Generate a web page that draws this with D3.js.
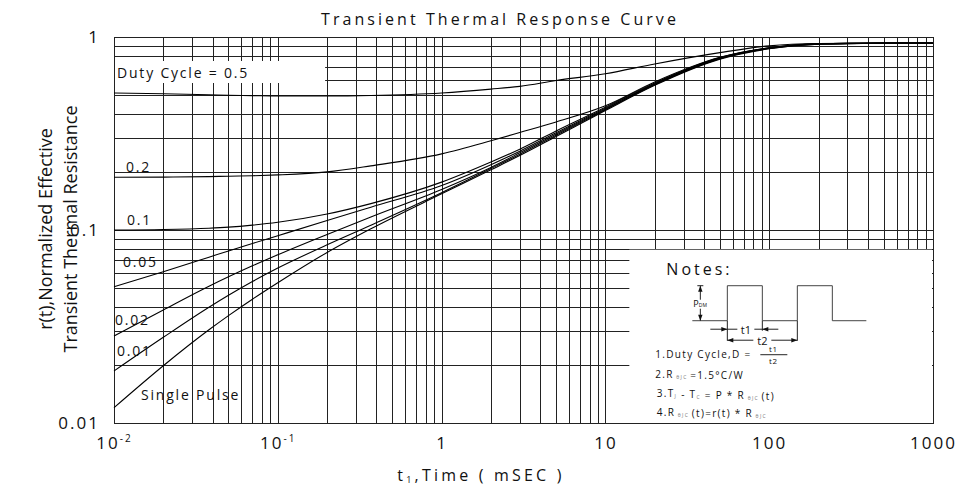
<!DOCTYPE html>
<html>
<head>
<meta charset="utf-8">
<script src="https://cdn.jsdelivr.net/npm/d3@7"></script>
<style>
  body { margin: 0; background: #fff; }
  text { font-family: "Open Sans", sans-serif; fill: #111; }
</style>
</head>
<body>
<svg id="chart" width="963" height="488"></svg>
<script>
// time points (mSEC) that every curve was read at
var times = [0.01, 0.02, 0.038, 0.05, 0.07, 0.1, 0.2, 0.37, 1, 2, 3, 5, 10, 20, 50, 100, 200, 500, 1000];

// r(t) per duty cycle
var duty50 = [0.513, 0.508, 0.502, 0.499, 0.497, 0.495, 0.495, 0.498, 0.513, 0.537, 0.555, 0.595, 0.645, 0.725, 0.83, 0.9, 0.925, 0.93, 0.931];
var duty20 = [0.1875, 0.188, 0.189, 0.19, 0.191, 0.193, 0.2, 0.215, 0.248, 0.29, 0.32, 0.363, 0.44, 0.585, 0.785, 0.88, 0.923, 0.93, 0.931];
var duty10 = [0.1, 0.1006, 0.1022, 0.1035, 0.106, 0.1096, 0.121, 0.137, 0.177, 0.225, 0.262, 0.326, 0.432, 0.578, 0.782, 0.878, 0.922, 0.93, 0.931];
var duty05 = [0.0508, 0.0608, 0.0723, 0.0779, 0.0851, 0.0934, 0.1119, 0.1313, 0.17, 0.218, 0.256, 0.319, 0.427, 0.573, 0.778, 0.876, 0.921, 0.93, 0.931];
var duty02 = [0.0282, 0.0385, 0.0511, 0.0572, 0.0652, 0.0744, 0.0948, 0.1169, 0.1623, 0.211, 0.251, 0.314, 0.423, 0.569, 0.775, 0.874, 0.92, 0.929, 0.931];
var duty01 = [0.0186, 0.0278, 0.0398, 0.0459, 0.0541, 0.0635, 0.0838, 0.1059, 0.156, 0.208, 0.247, 0.31, 0.42, 0.566, 0.772, 0.872, 0.919, 0.929, 0.931];
var single = [0.012, 0.0198, 0.0304, 0.036, 0.0438, 0.0533, 0.0765, 0.1015, 0.154, 0.205, 0.243, 0.305, 0.416, 0.562, 0.768, 0.869, 0.917, 0.928, 0.93];

var curves = [duty50, duty20, duty10, duty05, duty02, duty01, single];
var curveNames = ["Duty Cycle = 0.5", "0.2", "0.1", "0.05", "0.02", "0.01", "Single Pulse"];

var xTicks = [0.01, 0.1, 1, 10, 100, 1000];
var yTicks = [0.01, 0.1, 1];

var svg = d3.select("#chart");

var x = d3.scaleLog().domain([0.01, 1000]).range([114, 933]);
var y = d3.scaleLog().domain([0.01, 1]).range([423, 37]);

// grid
var grid = svg.append("g").attr("class", "grid");
grid.append("g")
    .attr("transform", "translate(0," + y(0.01) + ")")
    .call(d3.axisBottom(x).tickValues(x.ticks()).tickSize(-(y(0.01) - y(1))).tickFormat(""));
grid.append("g")
    .attr("transform", "translate(" + x(0.01) + ",0)")
    .call(d3.axisLeft(y).tickValues(y.ticks()).tickSize(-(x(1000) - x(0.01))).tickFormat(""));
grid.selectAll(".domain").remove();
grid.selectAll("line").attr("stroke", "#222").attr("stroke-width", 1).attr("shape-rendering", "crispEdges");

// white boxes over the grid
svg.append("rect")
    .attr("x", x(0.01) + 1).attr("y", 61)
    .attr("width", x(0.2) - x(0.01) - 3).attr("height", 22)
    .attr("fill", "#fff");

var bx = x(14), by = y(0.08);
svg.append("rect")
    .attr("x", bx).attr("y", by + 1)
    .attr("width", x(1000) - bx - 1).attr("height", y(0.01) - by - 1)
    .attr("fill", "#fff");

// frame
svg.append("rect")
    .attr("x", x(0.01)).attr("y", y(1))
    .attr("width", x(1000) - x(0.01)).attr("height", y(0.01) - y(1))
    .attr("fill", "none").attr("stroke", "#222").attr("shape-rendering", "crispEdges");

// curves
var line = d3.line()
    .x(function(d, i) { return x(times[i]); })
    .y(function(d) { return y(d); })
    .curve(d3.curveMonotoneX);

svg.append("g").selectAll("path")
    .data(curves)
    .enter()
    .append("path")
    .attr("d", line)
    .attr("fill", "none")
    .attr("stroke", "#000")
    .attr("stroke-width", 1.1);

// curve labels
var labelPos = [[117, 78], [126, 172], [127, 225], [123, 267], [115, 325], [117, 356], [141, 400]];
svg.append("g").selectAll("text")
    .data(curveNames)
    .enter()
    .append("text")
    .attr("x", function(d, i) { return labelPos[i][0]; })
    .attr("y", function(d, i) { return labelPos[i][1]; })
    .attr("font-size", 14)
    .attr("letter-spacing", 1.8)
    .text(function(d) { return d; });

// axes labels
var xAxis = svg.append("g")
    .attr("transform", "translate(0," + y(0.01) + ")")
    .call(d3.axisBottom(x).tickValues(xTicks).tickSize(0).tickPadding(14)
        .tickFormat(function(d) { return d < 1 ? "10" : String(d); }));
xAxis.select(".domain").remove();
xAxis.selectAll("text")
    .attr("font-size", 17)
    .attr("letter-spacing", 2)
    .style("font-family", "Open Sans")
    .attr("fill", "#111")
    .each(function(d) {
        if (d < 1) {
            d3.select(this).append("tspan")
                .attr("dy", "-0.7em")
                .attr("font-size", 10)
                .text(d === 0.01 ? "-2" : "-1");
        }
    });

var yAxis = svg.append("g")
    .attr("transform", "translate(" + x(0.01) + ",0)")
    .call(d3.axisLeft(y).tickValues(yTicks).tickSize(0).tickPadding(14)
        .tickFormat(function(d) { return String(d); }));
yAxis.select(".domain").remove();
yAxis.selectAll("text")
    .attr("font-size", 17)
    .attr("letter-spacing", 2)
    .style("font-family", "Open Sans")
    .attr("fill", "#111");

// titles
svg.append("text")
    .attr("x", 500).attr("y", 25)
    .attr("text-anchor", "middle")
    .attr("font-size", 16)
    .attr("letter-spacing", 3.05)
    .text("Transient Thermal Response Curve");

var xt = svg.append("text")
    .attr("x", 481).attr("y", 481)
    .attr("text-anchor", "middle")
    .attr("font-size", 16)
    .attr("letter-spacing", 3.2);
xt.append("tspan").text("t");
xt.append("tspan").attr("font-size", 9).attr("dy", 2).text("1");
xt.append("tspan").attr("dy", -2).text(",Time ( mSEC )");

var yt = svg.append("g").attr("transform", "translate(52,229) rotate(-90)");
yt.append("text").attr("text-anchor", "middle").attr("font-size", 18).text("r(t),Normalized Effective");
yt.append("text").attr("text-anchor", "middle").attr("font-size", 18).attr("y", 25).text("Transient Thermal Resistance");

// notes
var notes = svg.append("g").attr("transform", "translate(" + bx + "," + by + ")");
notes.append("text").attr("x", 37).attr("y", 26).attr("font-size", 16).attr("letter-spacing", 3).text("Notes:");

var lowY = 72, highY = 37;
var edges = [63, 98, 133, 168, 203, 237];
notes.append("path")
    .attr("d", "M" + edges[0] + "," + lowY + "H" + edges[1] + "V" + highY + "H" + edges[2] + "V" + lowY +
        "H" + edges[3] + "V" + highY + "H" + edges[4] + "V" + lowY + "H" + edges[5])
    .attr("fill", "none").attr("stroke", "#444").attr("stroke-width", 1);

function arrow(tx, ty, dir) {
    // dir: "l", "r", "u", "d" = direction the tip points
    var p;
    if (dir === "r") p = [[tx, ty], [tx - 6, ty - 2.2], [tx - 6, ty + 2.2]];
    if (dir === "l") p = [[tx, ty], [tx + 6, ty - 2.2], [tx + 6, ty + 2.2]];
    if (dir === "u") p = [[tx, ty], [tx - 2.2, ty + 6], [tx + 2.2, ty + 6]];
    if (dir === "d") p = [[tx, ty], [tx - 2.2, ty - 6], [tx + 2.2, ty - 6]];
    notes.append("path").attr("d", "M" + p.join("L") + "Z").attr("fill", "#111");
}

var thin = function(sel) { return sel.attr("stroke", "#222").attr("stroke-width", 1).attr("fill", "none"); };

// P_DM
thin(notes.append("line").attr("x1", 71).attr("x2", 71).attr("y1", highY).attr("y2", lowY));
thin(notes.append("line").attr("x1", 68).attr("x2", 74).attr("y1", highY).attr("y2", highY));
arrow(71, highY, "u");
arrow(71, lowY, "d");
notes.append("rect").attr("x", 63).attr("y", 51).attr("width", 20).attr("height", 9).attr("fill", "#fff");
var pdm = notes.append("text").attr("x", 64).attr("y", 58).attr("font-size", 9).attr("font-family", "Liberation Sans");
pdm.append("tspan").text("P");
pdm.append("tspan").attr("font-size", 5).attr("dy", 0.5).text("DM");

// extension lines
thin(notes.append("line").attr("x1", edges[1]).attr("x2", edges[1]).attr("y1", lowY).attr("y2", 92));
thin(notes.append("line").attr("x1", edges[2]).attr("x2", edges[2]).attr("y1", lowY).attr("y2", 82));
thin(notes.append("line").attr("x1", edges[3]).attr("x2", edges[3]).attr("y1", lowY).attr("y2", 92));

// t1
thin(notes.append("line").attr("x1", 81).attr("x2", 149).attr("y1", 80.5).attr("y2", 80.5));
arrow(edges[1], 80.5, "r");
arrow(edges[2], 80.5, "l");
notes.append("rect").attr("x", 108).attr("y", 75).attr("width", 17).attr("height", 10).attr("fill", "#fff");
notes.append("text").attr("x", 116.5).attr("y", 85).attr("text-anchor", "middle").attr("font-size", 11).attr("font-family", "Liberation Sans").text("t1");

// t2
thin(notes.append("line").attr("x1", edges[1]).attr("x2", edges[3]).attr("y1", 91.5).attr("y2", 91.5));
arrow(edges[1], 91.5, "l");
arrow(edges[3], 91.5, "r");
notes.append("rect").attr("x", 124).attr("y", 86).attr("width", 18).attr("height", 10).attr("fill", "#fff");
notes.append("text").attr("x", 133).attr("y", 96).attr("text-anchor", "middle").attr("font-size", 11).attr("font-family", "Liberation Sans").text("t2");

// note lines
var n1 = notes.append("text").attr("x", 26).attr("y", 109).attr("font-size", 10).attr("letter-spacing", 1.3);
n1.text("1.Duty Cycle,D =");
notes.append("text").attr("x", 144).attr("y", 103).attr("text-anchor", "middle").attr("font-size", 8).attr("letter-spacing", 0.6).text("t1");
thin(notes.append("line").attr("x1", 131).attr("x2", 158).attr("y1", 106).attr("y2", 106));
notes.append("text").attr("x", 144).attr("y", 115).attr("text-anchor", "middle").attr("font-size", 8).attr("letter-spacing", 0.6).text("t2");

function sub(sel, s) { sel.append("tspan").attr("font-size", 5).attr("fill", "#777").attr("dy", 1).text(s); sel.append("tspan").attr("dy", -1).text(""); }

var n2 = notes.append("text").attr("x", 26).attr("y", 129.5).attr("font-size", 10).attr("letter-spacing", 1.3);
n2.append("tspan").text("2.R");
sub(n2, " \u03b8JC ");
n2.append("tspan").text(" =1.5\u00b0C/W");

var n3 = notes.append("text").attr("x", 27.5).attr("y", 148).attr("font-size", 10).attr("letter-spacing", 1.3);
n3.append("tspan").text("3.T");
sub(n3, "J");
n3.append("tspan").text("  -  T");
sub(n3, "C");
n3.append("tspan").text("  =  P  *  R");
sub(n3, " \u03b8JC ");
n3.append("tspan").text(" (t)");

var n4 = notes.append("text").attr("x", 27.5).attr("y", 167).attr("font-size", 10).attr("letter-spacing", 1.3);
n4.append("tspan").text("4.R");
sub(n4, " \u03b8JC ");
n4.append("tspan").text("(t)=r(t)  *  R");
sub(n4, " \u03b8JC");
</script>
</body>
</html>
